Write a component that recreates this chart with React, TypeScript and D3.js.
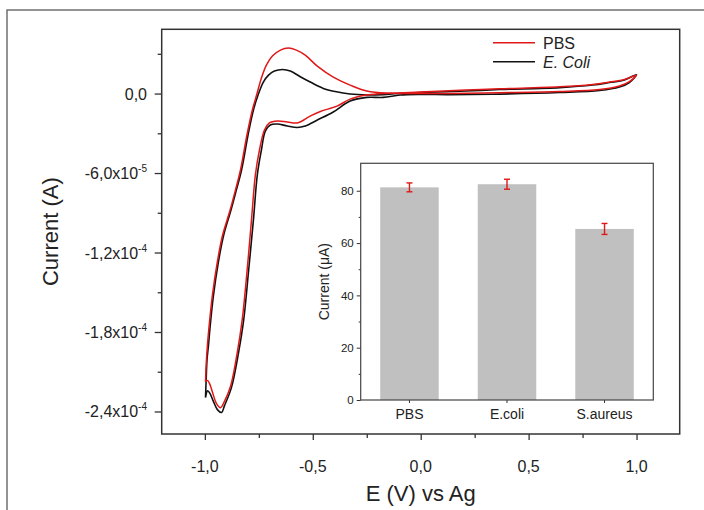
import React, { useRef, useEffect } from 'react';
import * as d3 from 'd3';

const W = 704, H = 510;

// cyclic voltammograms: [E (V), I (x1e-5 A)], starting at the -1.0 V vertex
const pbsScan: [number, number][] = [
  [-0.997, -21.75], [-0.994, -20.47], [-0.988, -18.96], [-0.982, -17.83], [-0.966, -15.34],
  [-0.943, -12.78], [-0.918, -10.70], [-0.884, -8.85], [-0.858, -7.27], [-0.835, -5.77],
  [-0.805, -3.13], [-0.780, -1.24], [-0.759, -0.04], [-0.738, 1.17], [-0.715, 2.15],
  [-0.687, 2.83], [-0.650, 3.28], [-0.613, 3.43], [-0.576, 3.28], [-0.535, 2.90],
  [-0.479, 2.07], [-0.405, 1.24], [-0.327, 0.64], [-0.250, 0.19], [-0.157, 0.04],
  [-0.003, 0.11], [0.209, 0.26], [0.366, 0.36], [0.644, 0.51], [0.796, 0.69],
  [0.875, 0.87], [0.944, 1.06], [1.000, 1.39],
  [0.967, 0.90], [0.921, 0.57], [0.829, 0.30], [0.644, 0.15], [0.366, 0.06],
  [0.135, 0.0], [-0.049, 0.0], [-0.142, 0.02], [-0.250, -0.11], [-0.327, -0.42],
  [-0.388, -0.95], [-0.465, -1.35], [-0.512, -1.70], [-0.572, -2.22], [-0.618, -2.15],
  [-0.664, -2.07], [-0.701, -2.22], [-0.724, -2.75], [-0.747, -4.26], [-0.766, -6.14],
  [-0.784, -9.54], [-0.804, -13.30], [-0.827, -17.07], [-0.850, -19.56], [-0.881, -22.10],
  [-0.912, -23.33], [-0.927, -23.71], [-0.946, -23.40], [-0.964, -22.58], [-0.978, -21.90],
  [-0.987, -21.67], [-0.997, -21.75],
];

const ecoliScan: [number, number][] = [
  [-0.997, -22.95], [-0.994, -21.60], [-0.990, -20.09], [-0.983, -18.96], [-0.977, -17.83],
  [-0.961, -15.34], [-0.938, -12.78], [-0.913, -10.70], [-0.880, -8.85], [-0.854, -7.27],
  [-0.830, -5.77], [-0.800, -3.13], [-0.775, -1.24], [-0.752, -0.04], [-0.729, 0.87],
  [-0.705, 1.39], [-0.678, 1.70], [-0.640, 1.82], [-0.604, 1.70], [-0.558, 1.27],
  [-0.512, 0.87], [-0.451, 0.39], [-0.396, 0.15], [-0.327, -0.04], [-0.250, -0.11],
  [-0.174, -0.08], [-0.096, 0.02], [-0.003, 0.08], [0.209, 0.19], [0.366, 0.30],
  [0.644, 0.45], [0.796, 0.64], [0.875, 0.83], [0.944, 1.02], [1.000, 1.43],
  [0.967, 0.83], [0.921, 0.49], [0.829, 0.23], [0.644, 0.08], [0.366, -0.04],
  [0.135, -0.08], [-0.003, -0.06], [-0.096, -0.11], [-0.174, -0.29], [-0.250, -0.29],
  [-0.327, -0.57], [-0.405, -1.39], [-0.479, -2.00], [-0.535, -2.45], [-0.572, -2.56],
  [-0.618, -2.45], [-0.664, -2.30], [-0.697, -2.37], [-0.720, -2.83], [-0.738, -4.26],
  [-0.757, -6.14], [-0.775, -9.54], [-0.797, -13.30], [-0.820, -17.07], [-0.844, -19.56],
  [-0.877, -22.20], [-0.909, -23.56], [-0.923, -24.08], [-0.942, -23.86], [-0.960, -23.26],
  [-0.976, -22.65], [-0.987, -22.43], [-0.997, -22.95],
];

const xMajor = [-1, -0.5, 0, 0.5, 1];
const xMinor = [-0.75, -0.25, 0.25, 0.75];
const yMajor = [0, -6, -12, -18, -24];
const yMinor = [3, -3, -9, -15, -21];

const barCats = ['PBS', 'E.coli', 'S.aureus'];
const barValues = [81.3, 82.5, 65.4];
const barErrors = [1.7, 1.9, 2.1];
const barTicks = [0, 20, 40, 60, 80];
const barMinor = [10, 30, 50, 70];

const legendItems = [
  { label: 'PBS', color: '#e01818', italic: false },
  { label: 'E. Coli', color: '#111', italic: true },
];

export default function App() {
  const ref = useRef<SVGSVGElement>(null);

  useEffect(() => {
    const svg = d3.select(ref.current);
    svg.selectAll('*').remove();
    const font = 'Liberation Sans, Arial, sans-serif';
    const ink = '#222';

    // outer figure frame
    svg.append('rect').attr('x', 7).attr('y', 10).attr('width', W).attr('height', H)
      .attr('fill', 'none').attr('stroke', '#666').attr('stroke-width', 1.4);

    const m = { left: 161.7, right: 679.7, top: 29.3, bottom: 434 };
    const x = d3.scaleLinear().domain([-1.2, 1.2]).range([m.left, m.right]);
    const y = d3.scaleLinear().domain([-25.7, 4.85]).range([m.bottom, m.top]);

    const styleAxis = (g) => {
      g.select('.domain').remove();
      g.selectAll('line').attr('stroke', '#333').attr('stroke-width', 1.3);
    };

    svg.append('g').attr('transform', `translate(0,${m.bottom})`)
      .call(d3.axisBottom(x).tickValues(xMajor).tickSize(6).tickFormat(() => '')).call(styleAxis);
    svg.append('g').attr('transform', `translate(0,${m.bottom})`)
      .call(d3.axisBottom(x).tickValues(xMinor).tickSize(4).tickFormat(() => '')).call(styleAxis);
    svg.append('g').attr('transform', `translate(${m.left},0)`)
      .call(d3.axisLeft(y).tickValues(yMajor).tickSize(7).tickFormat(() => '')).call(styleAxis);
    svg.append('g').attr('transform', `translate(${m.left},0)`)
      .call(d3.axisLeft(y).tickValues(yMinor).tickSize(4).tickFormat(() => '')).call(styleAxis);

    svg.append('g').selectAll('text').data(xMajor).join('text')
      .attr('x', d => x(d)).attr('y', 472).attr('text-anchor', 'middle')
      .attr('font-family', font).attr('font-size', 16).attr('fill', ink)
      .text(d => d.toFixed(1).replace('.', ','));

    const yl = svg.append('g').selectAll('text').data(yMajor).join('text')
      .attr('x', 147).attr('y', d => y(d) + 6).attr('text-anchor', 'end')
      .attr('font-family', font).attr('font-size', 16).attr('fill', ink);
    yl.each(function (d) {
      const t = d3.select(this);
      if (d === 0) { t.text('0,0'); return; }
      const v = d * 1e-5;
      const e = Math.floor(Math.log10(Math.abs(v)));
      const mant = v / Math.pow(10, e);
      t.append('tspan').text(mant.toFixed(1).replace('.', ',') + 'x10');
      t.append('tspan').attr('dy', -7).attr('font-size', 10).text(String(e));
    });

    svg.append('text').attr('x', (m.left + m.right) / 2).attr('y', 501).attr('text-anchor', 'middle')
      .attr('font-family', font).attr('font-size', 22).attr('fill', ink).text('E (V) vs Ag');
    svg.append('text').attr('transform', `translate(58,${(m.top + m.bottom) / 2}) rotate(-90)`)
      .attr('text-anchor', 'middle').attr('font-family', font).attr('font-size', 22).attr('fill', ink)
      .text('Current (A)');

    const line = d3.line<[number, number]>().x(d => x(d[0])).y(d => y(d[1])).curve(d3.curveCatmullRom.alpha(0.5));
    svg.append('path').datum(ecoliScan).attr('d', line).attr('fill', 'none')
      .attr('stroke', legendItems[1].color).attr('stroke-width', 1.6);
    svg.append('path').datum(pbsScan).attr('d', line).attr('fill', 'none')
      .attr('stroke', legendItems[0].color).attr('stroke-width', 1.5);

    svg.append('rect').attr('x', m.left).attr('y', m.top).attr('width', m.right - m.left)
      .attr('height', m.bottom - m.top).attr('fill', 'none').attr('stroke', '#333').attr('stroke-width', 1.5);

    // legend
    const lg = svg.append('g').selectAll('g').data(legendItems).join('g')
      .attr('transform', (d, i) => `translate(493,${42.7 + i * 19})`);
    lg.append('line').attr('x1', 0).attr('x2', 42).attr('stroke', d => d.color).attr('stroke-width', 1.6);
    lg.append('text').attr('x', 50).attr('y', 6).attr('font-family', font).attr('font-size', 16)
      .attr('font-style', d => d.italic ? 'italic' : 'normal').attr('fill', ink).text(d => d.label);

    // inset bar chart
    const im = { left: 360.7, right: 653.3, top: 163.3, bottom: 400 };
    const bx = d3.scaleBand().domain(barCats).range([im.left, im.right]).paddingInner(0.4).paddingOuter(0.2);
    const by = d3.scaleLinear().domain([0, 90.5]).range([im.bottom, im.top]);

    svg.append('rect').attr('x', im.left).attr('y', im.top).attr('width', im.right - im.left)
      .attr('height', im.bottom - im.top).attr('fill', '#fff');

    svg.append('g').selectAll('rect').data(barValues).join('rect')
      .attr('x', (d, i) => bx(barCats[i])).attr('width', bx.bandwidth())
      .attr('y', d => by(d)).attr('height', d => by(0) - by(d)).attr('fill', '#c0c0c0');

    const eb = svg.append('g').selectAll('g').data(barValues).join('g')
      .attr('transform', (d, i) => `translate(${bx(barCats[i]) + bx.bandwidth() / 2},0)`);
    eb.append('line').attr('y1', (d, i) => by(d - barErrors[i])).attr('y2', (d, i) => by(d + barErrors[i]))
      .attr('stroke', '#e01818').attr('stroke-width', 1.4);
    eb.append('line').attr('x1', -3).attr('x2', 3).attr('y1', (d, i) => by(d - barErrors[i])).attr('y2', (d, i) => by(d - barErrors[i]))
      .attr('stroke', '#e01818').attr('stroke-width', 1.4);
    eb.append('line').attr('x1', -3).attr('x2', 3).attr('y1', (d, i) => by(d + barErrors[i])).attr('y2', (d, i) => by(d + barErrors[i]))
      .attr('stroke', '#e01818').attr('stroke-width', 1.4);

    const styleInset = (g) => {
      g.select('.domain').remove();
      g.selectAll('line').attr('stroke', '#333').attr('stroke-width', 1);
      g.selectAll('text').attr('font-family', font).attr('fill', ink);
    };
    svg.append('g').attr('transform', `translate(${im.left},0)`)
      .call(d3.axisLeft(by).tickValues(barTicks).tickSize(4).tickPadding(3)).call(styleInset)
      .selectAll('text').attr('font-size', 11.5);
    svg.append('g').attr('transform', `translate(${im.left},0)`)
      .call(d3.axisLeft(by).tickValues(barMinor).tickSize(2).tickFormat(() => '')).call(styleInset);
    svg.append('g').attr('transform', `translate(0,${im.bottom})`)
      .call(d3.axisBottom(bx).tickSize(3).tickPadding(6)).call(styleInset)
      .selectAll('text').attr('font-size', 14);

    svg.append('rect').attr('x', im.left).attr('y', im.top).attr('width', im.right - im.left)
      .attr('height', im.bottom - im.top).attr('fill', 'none').attr('stroke', '#444').attr('stroke-width', 1.2);

    svg.append('text').attr('transform', `translate(329,${(im.top + im.bottom) / 2}) rotate(-90)`)
      .attr('text-anchor', 'middle').attr('font-family', font).attr('font-size', 14).attr('fill', ink)
      .text('Current (μA)');
  }, []);

  return (
    <svg ref={ref} width={W} height={H} viewBox={`0 0 ${W} ${H}`}
      style={{ position: 'absolute', left: 0, top: 0, background: '#fff' }}
      role="img" aria-label="Cyclic voltammetry with inset bar chart" />
  );
}
